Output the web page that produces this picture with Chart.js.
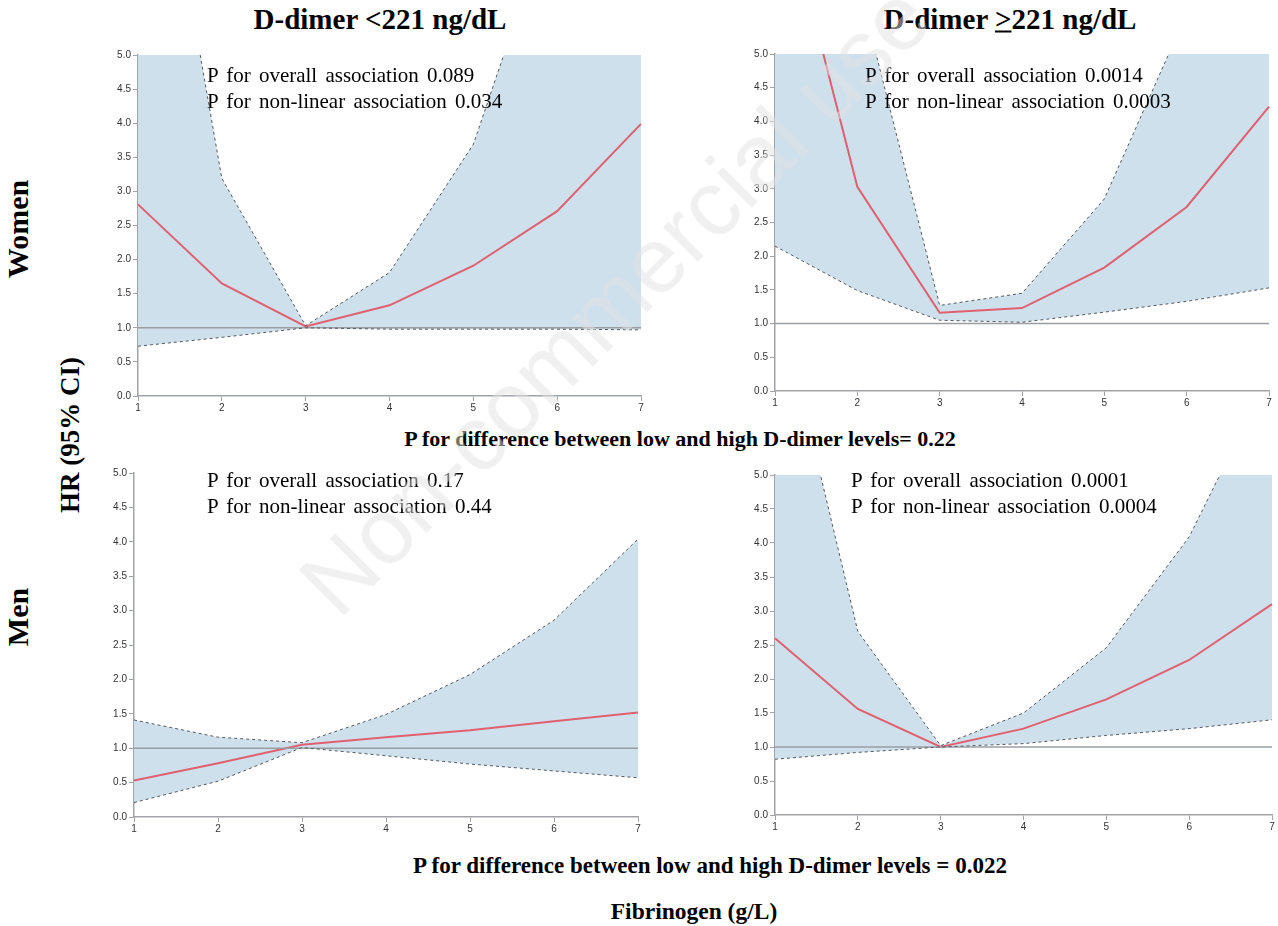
<!DOCTYPE html>
<html>
<head>
<meta charset="utf-8">
<script src="https://cdn.jsdelivr.net/npm/chart.js@4.4.0/dist/chart.umd.min.js"></script>
<style>
  body { margin: 0; background: #fff; }
  #page { position: relative; width: 1278px; height: 926px; overflow: hidden; }
  canvas { position: absolute; }
  .lbl { position: absolute; transform: translate(-50%, -50%); white-space: nowrap;
         font-family: "Liberation Serif", "Times New Roman", serif; color: #000; }
  .bold { font-weight: bold; }
  .rot { transform: translate(-50%, -50%) rotate(-90deg); }
  .note { position: absolute; font-family: "Liberation Serif", "Times New Roman", serif;
          font-size: 21px; line-height: 26px; white-space: nowrap; word-spacing: 3px; color: #000; }
  #wm { position: absolute; left: 615px; top: 300px; transform: translate(-50%, -50%) rotate(-45deg);
        font-family: "Liberation Sans", Arial, sans-serif; font-size: 92px; white-space: nowrap;
        color: rgba(225, 225, 225, 0.5); pointer-events: none; }
</style>
</head>
<body>
<div id="page">
  <canvas id="c1" width="545" height="375" style="left:100px;top:45px"></canvas>
  <canvas id="c2" width="541" height="371" style="left:737px;top:44px"></canvas>
  <canvas id="c3" width="546" height="378" style="left:96px;top:463px"></canvas>
  <canvas id="c4" width="541" height="374" style="left:737px;top:465px"></canvas>

  <div class="lbl bold" style="left:380px;top:19px;font-size:29px">D-dimer &lt;221 ng/dL</div>
  <div class="lbl bold" style="left:1010px;top:19px;font-size:29px">D-dimer <u>&gt;</u>221 ng/dL</div>

  <div class="lbl bold rot" style="left:18px;top:229px;font-size:30px">Women</div>
  <div class="lbl bold rot" style="left:18px;top:617px;font-size:30px">Men</div>
  <div class="lbl bold rot" style="left:70px;top:435px;font-size:27px">HR (95% CI)</div>

  <div class="lbl bold" style="left:680px;top:439px;font-size:22px">P for difference between low and high D-dimer levels= 0.22</div>
  <div class="lbl bold" style="left:710px;top:866px;font-size:23px">P for difference between low and high D-dimer levels = 0.022</div>
  <div class="lbl bold" style="left:694px;top:911px;font-size:23.5px">Fibrinogen (g/L)</div>

  <div class="note" style="left:207px;top:62px">P for overall association 0.089<br>P for non-linear association 0.034</div>
  <div class="note" style="left:865px;top:62px">P for overall association 0.0014<br>P for non-linear association 0.0003</div>
  <div class="note" style="left:207px;top:467px">P for overall association 0.17<br>P for non-linear association 0.44</div>
  <div class="note" style="left:851px;top:467px">P for overall association 0.0001<br>P for non-linear association 0.0004</div>

  <div id="wm">Non-commercial use</div>
</div>

<script>
// fibrinogen levels (g/L)
const fibrinogen = ["1", "2", "3", "4", "5", "6", "7"];
const yTicks = [0, 0.5, 1, 1.5, 2, 2.5, 3, 3.5, 4, 4.5, 5];
const refLine = [1, 1, 1, 1, 1, 1, 1];

// women, D-dimer < 221
const womenLowHR = [2.81, 1.65, 1.02, 1.33, 1.91, 2.71, 3.99];
const womenLowUpper = [10.2, 3.19, 1.03, 1.81, 3.69, 7.3, 14];
const womenLowLower = [0.73, 0.86, 1.0, 0.98, 0.98, 0.98, 0.97];

// women, D-dimer >= 221
const womenHighHR = [7.8, 3.03, 1.16, 1.23, 1.83, 2.73, 4.22];
const womenHighUpper = [12, 6.1, 1.27, 1.45, 2.85, 5.6, 9];
const womenHighLower = [2.15, 1.49, 1.05, 1.02, 1.17, 1.33, 1.53];

// men, D-dimer < 221
const menLowHR = [0.53, 0.78, 1.05, 1.16, 1.26, 1.39, 1.52];
const menLowUpper = [1.41, 1.16, 1.08, 1.49, 2.07, 2.86, 4.04];
const menLowLower = [0.21, 0.52, 1.01, 0.89, 0.77, 0.67, 0.57];

// men, D-dimer >= 221
const menHighHR = [2.6, 1.56, 1.0, 1.27, 1.7, 2.28, 3.1];
const menHighUpper = [7.8, 2.7, 1.02, 1.5, 2.46, 4.09, 6.55];
const menHighLower = [0.82, 0.92, 1.0, 1.05, 1.17, 1.27, 1.4];

const tickFont = { family: "Liberation Sans, Arial, sans-serif", size: 10 };
const axisColor = "#a0a4a8";

function drawPanel(id, hr, upper, lower, padRight, padTop) {
    const ctx = document.getElementById(id).getContext("2d");
    new Chart(ctx, {
        type: "line",
        data: {
            labels: fibrinogen,
            datasets: [
                {
                    label: "Lower",
                    data: lower,
                    borderColor: "#55595e",
                    borderWidth: 1,
                    borderDash: [3, 3],
                    pointRadius: 0,
                    fill: false,
                },
                {
                    label: "Upper",
                    data: upper,
                    borderColor: "#55595e",
                    borderWidth: 1,
                    borderDash: [3, 3],
                    pointRadius: 0,
                    backgroundColor: "#cfe0ed",
                    fill: "-1",
                },
                {
                    label: "Reference",
                    data: refLine,
                    borderColor: "#9a9ea3",
                    borderWidth: 1.5,
                    pointRadius: 0,
                    fill: false,
                },
                {
                    label: "HR",
                    data: hr,
                    borderColor: "#e0606f",
                    borderWidth: 2,
                    pointRadius: 0,
                    fill: false,
                },
            ],
        },
        options: {
            responsive: false,
            animation: false,
            layout: { padding: { top: padTop, right: padRight, left: 0, bottom: 0 } },
            plugins: {
                legend: { display: false },
                tooltip: { enabled: false },
                filler: { drawTime: "beforeDatasetsDraw" },
            },
            scales: {
                x: {
                    offset: false,
                    grid: { display: true, drawOnChartArea: false, drawTicks: true, tickLength: 5, color: axisColor },
                    border: { display: true, color: axisColor, width: 1.5 },
                    ticks: { font: tickFont, color: "#333", padding: 1, maxRotation: 0 },
                    afterFit: (scale) => { scale.height = 24; },
                },
                y: {
                    min: 0,
                    max: 5,
                    afterBuildTicks: (scale) => { scale.ticks = yTicks.map((v) => ({ value: v })); },
                    grid: { display: true, drawOnChartArea: false, drawTicks: true, tickLength: 5, color: axisColor },
                    border: { display: true, color: axisColor, width: 1.5 },
                    ticks: { font: tickFont, color: "#333", padding: 2, callback: (v) => Number(v).toFixed(1) },
                    afterFit: (scale) => { scale.width = 38; },
                },
            },
        },
    });
}

drawPanel("c1", womenLowHR, womenLowUpper, womenLowLower, 4, 10);
drawPanel("c2", womenHighHR, womenHighUpper, womenHighLower, 9, 10);
drawPanel("c3", menLowHR, menLowUpper, menLowLower, 4, 10);
drawPanel("c4", menHighHR, menHighUpper, menHighLower, 6, 10);
</script>
</body>
</html>
